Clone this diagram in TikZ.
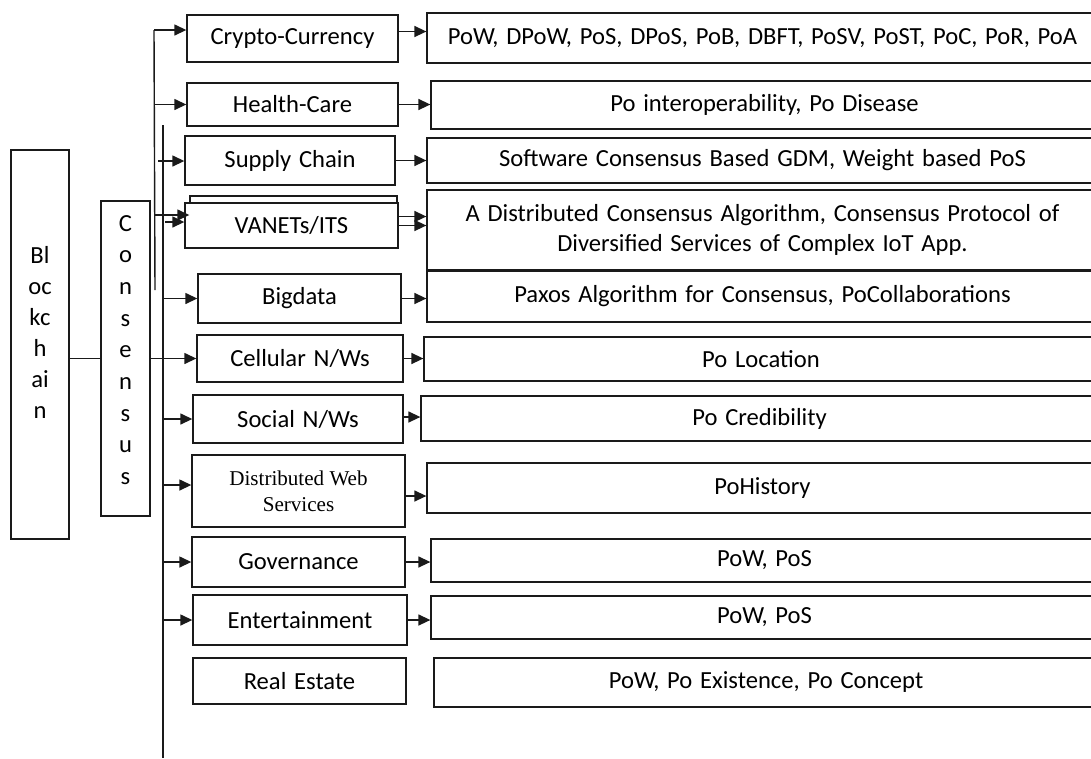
\documentclass[tikz,border=0pt]{standalone}
\usepackage{fontspec}
\setmainfont{Carlito}[WordSpace=1.4]
\newfontfamily\timesfont{Liberation Serif}
\usetikzlibrary{calc,positioning,arrows.meta}
\definecolor{ink}{HTML}{1A1A1A}
\tikzset{
  bx/.style={draw=ink,line width=0.8pt,fill=white,inner sep=2pt,align=center,font=\fontsize{14}{17}\selectfont,minimum width=#1},
  arr/.style={-{Triangle[length=2.4mm,width=2.2mm]},ink,line width=0.8pt},
  ln/.style={ink,line width=0.8pt},
}
\begin{document}
\begin{tikzpicture}[x=0.02cm,y=-0.02cm]
\useasboundingbox (0,0) rectangle (1091,758);
\clip (0,0) rectangle (1091,758);
\node[bx=1.16cm,minimum height=7.78cm,font=\fontsize{14}{17.6}\selectfont] (chain) at (40,344.5) {\raisebox{0.2cm}[\height][\depth]{\begin{tabular}{@{}c@{}}Bl\\oc\\kc\\h\\ai\\n\end{tabular}}};
\node[bx=0.98cm,minimum height=6.3cm,font=\fontsize{14}{18}\selectfont] (cons) at (125.5,358.5) {\raisebox{0.14cm}[\height][\depth]{\begin{tabular}{@{}c@{}}C\\o\\n\\s\\e\\n\\s\\u\\s\end{tabular}}};
\node[bx=4.22cm,minimum height=0.94cm] (crypto) at (292.5,38.5) {Crypto-Currency};
\node[bx=4.22cm,minimum height=0.86cm] (health) at (292.5,104.5) {Health-Care};
\node[bx=4.2cm,minimum height=0.98cm] (supply) at (290,160.5) {Supply Chain};
\node[bx=4.14cm,minimum height=0.88cm] (vback) at (293.5,218) {};
\node[bx=4.26cm,minimum height=0.9cm] (vanets) at (291.5,225.5) {VANETs/ITS};
\node[bx=4.06cm,minimum height=0.98cm] (bigdata) at (299.5,298.5) {Bigdata};
\node[bx=4.12cm,minimum height=0.94cm] (cellular) at (300,358.5) {Cellular N/Ws};
\node[bx=4.2cm,minimum height=0.96cm] (social) at (298,419) {Social N/Ws};
\node[bx=4.26cm,minimum height=1.44cm,font=\timesfont\fontsize{12}{14.7}\selectfont] (dws) at (298.5,491) {Distributed Web\\Services};
\node[bx=4.26cm,minimum height=1cm] (gov) at (298.5,562) {Governance};
\node[bx=4.28cm,minimum height=1cm] (ent) at (300,620) {Entertainment};
\node[bx=4.26cm,minimum height=0.92cm] (real) at (299.5,681) {Real Estate};
\node[bx=13.42cm,minimum height=1cm] (r1) at (762.5,38) {PoW, DPoW, PoS, DPoS, PoB, DBFT, PoSV, PoST, PoC, PoR, PoA};
\node[bx=13.34cm,minimum height=0.96cm] (r2) at (764.5,105) {Po interoperability, Po Disease};
\node[bx=13.42cm,minimum height=0.9cm] (r3) at (762.5,160.5) {Software Consensus Based GDM, Weight based PoS};
\node[bx=13.42cm,minimum height=1.6cm] (r4) at (762.5,230) {A Distributed Consensus Algorithm, Consensus Protocol of\\Diversified Services of Complex IoT App.};
\node[bx=13.42cm,minimum height=1.02cm] (r5) at (762.5,296.5) {Paxos Algorithm for Consensus, PoCollaborations};
\node[bx=13.48cm,minimum height=0.88cm] (r6) at (761,359) {Po Location};
\node[bx=13.54cm,minimum height=0.9cm] (r7) at (759.5,418.5) {Po Credibility};
\node[bx=13.42cm,minimum height=1cm] (r8) at (762.5,488) {PoHistory};
\node[bx=13.34cm,minimum height=0.86cm] (r9) at (764.5,560.5) {PoW, PoS};
\node[bx=13.34cm,minimum height=0.86cm] (r10) at (764.5,617.5) {PoW, PoS};
\node[bx=13.28cm,minimum height=0.98cm] (r11) at (766,682.5) {PoW, Po Existence, Po Concept};
\coordinate (a1) at (154,30);
\coordinate (a2) at (155,290);
\coordinate (b1) at (163,125);
\coordinate (b2) at (163,758);
\coordinate (s0) at (158,161);
\coordinate (v1) at (155,215);
\coordinate (v2) at (165,222);
\draw[ln] (a1) -- (a2);
\draw[ln] (b1) -- (b2);
\draw[ln] (chain.east |- cons.west) -- (cons.west);
\draw[arr] (a1) -- (a1 -| crypto.west);
\draw[arr] (health.west -| a1) -- (health.west);
\draw[arr] (s0) -- (s0 -| supply.west);
\draw[arr] (v1) -- (v1 -| vback.west);
\draw[arr] (v2) -- (v2 -| vanets.west);
\draw[arr] (bigdata.west -| b1) -- (bigdata.west);
\draw[arr] (cons.east) -- (cellular.west);
\draw[arr] (social.west -| b1) -- (social.west);
\draw[arr] ([yshift=0.12cm]dws.west -| b1) -- ([yshift=0.12cm]dws.west);
\draw[arr] (gov.west -| b1) -- (gov.west);
\draw[arr] (ent.west -| b1) -- (ent.west);
\draw[arr] ([yshift=0.14cm]crypto.east) -- ([yshift=0.14cm]crypto.east -| r1.west);
\draw[arr] (health.east) -- (health.east -| r2.west);
\draw[arr] (supply.east) -- (supply.east -| r3.west);
\draw[arr] ([yshift=0.18cm]vanets.east) -- ([yshift=0.18cm]vanets.east -| r4.west);
\draw[arr] (vanets.east) -- (vanets.east -| r4.west);
\draw[arr] (bigdata.east) -- (bigdata.east -| r5.west);
\draw[arr] (cellular.east) -- (cellular.east -| r6.west);
\draw[arr] ([yshift=0.04cm]social.east) -- ([yshift=0.04cm]social.east -| r7.west);
\draw[arr] ([yshift=-0.1cm]dws.east) -- ([yshift=-0.1cm]dws.east -| r8.west);
\draw[arr] (gov.east) -- (gov.east -| r9.west);
\draw[arr] (ent.east) -- (ent.east -| r10.west);
\end{tikzpicture}
\end{document}
